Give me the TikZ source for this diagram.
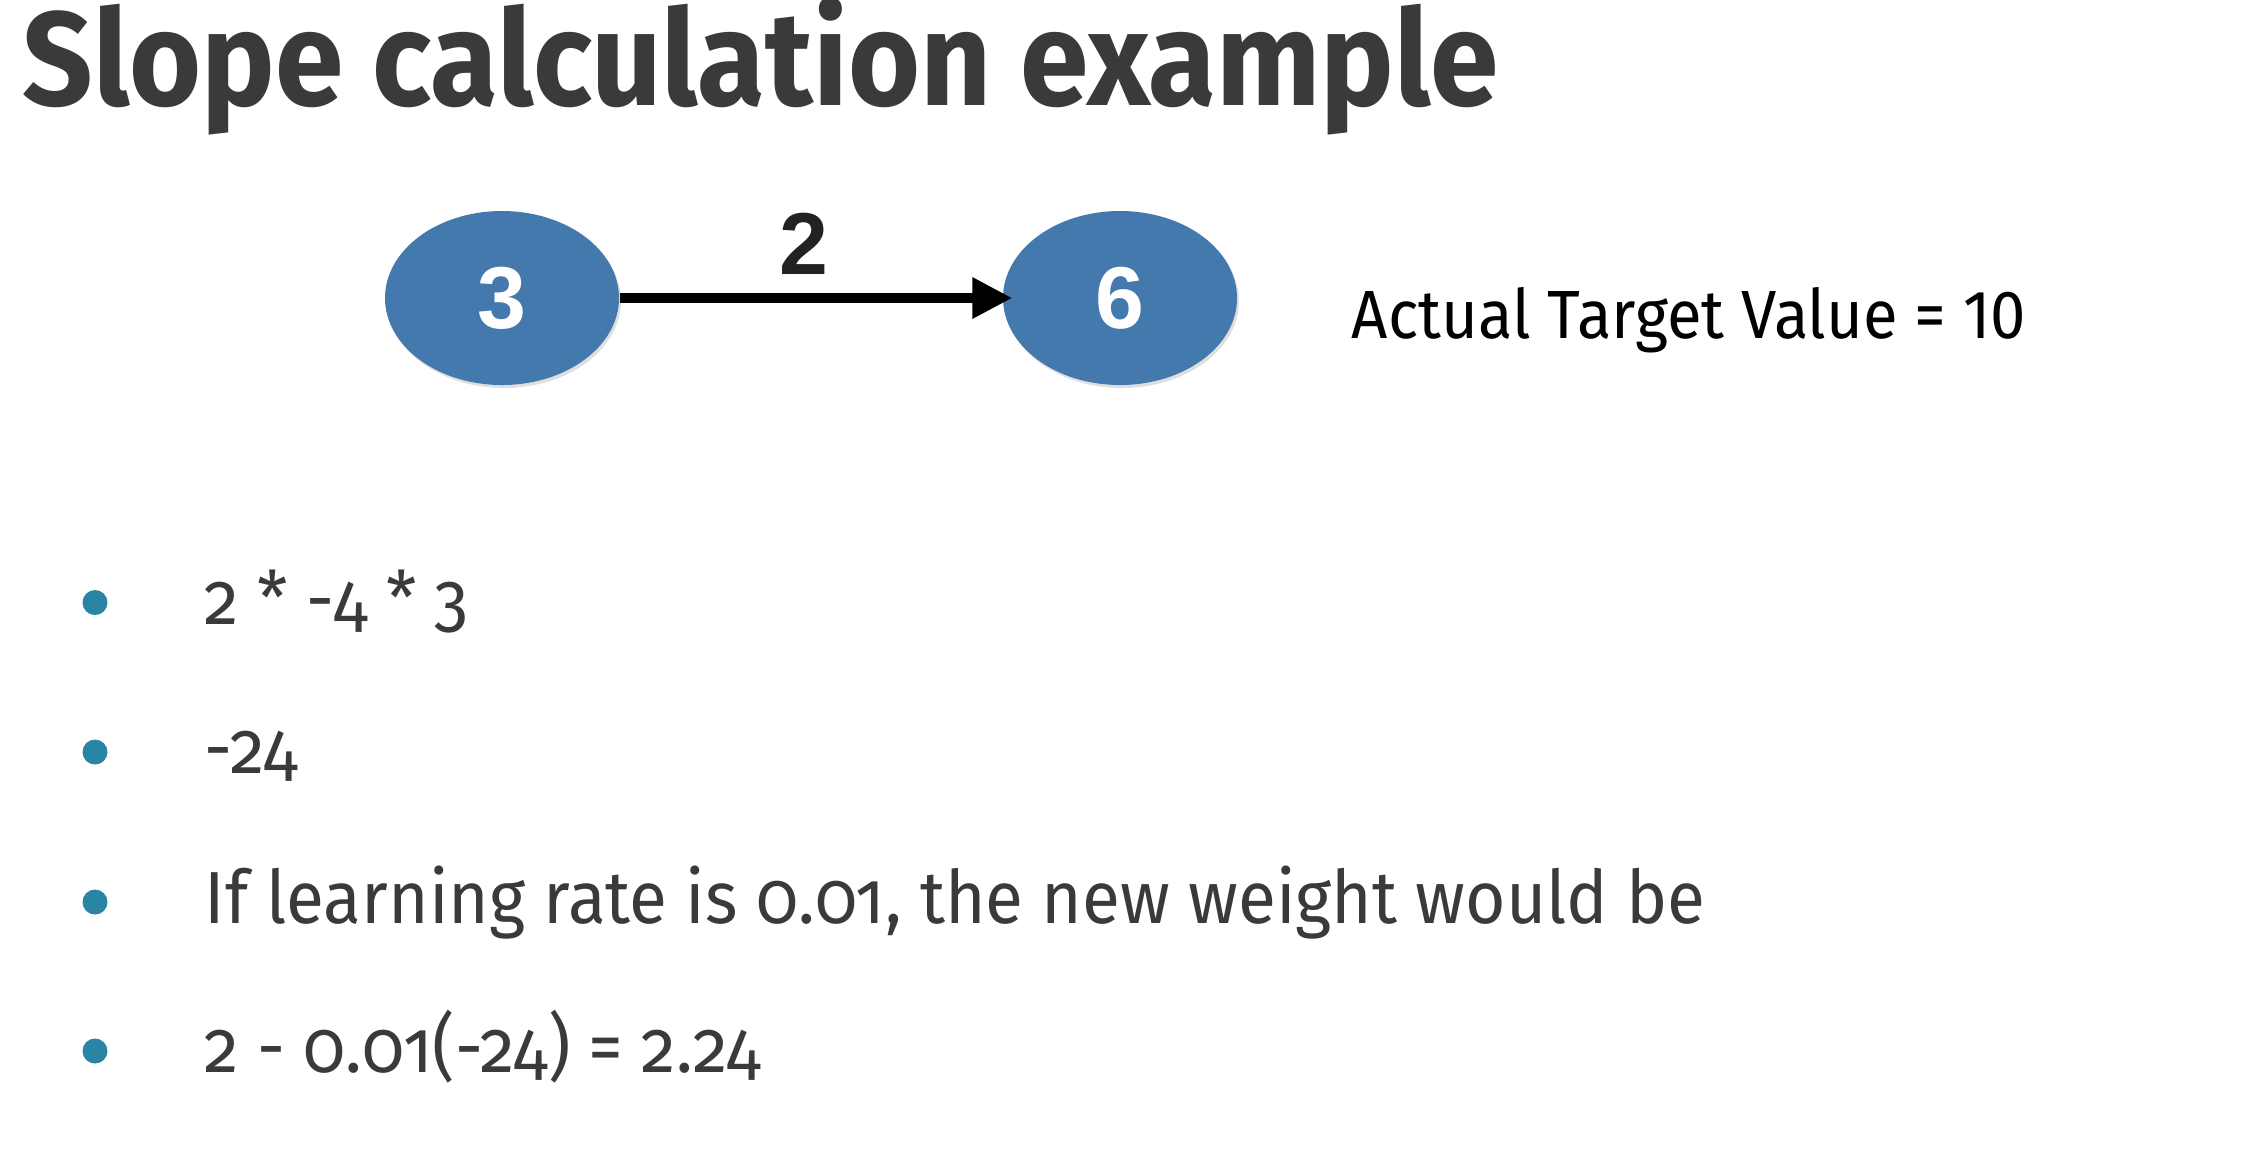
\documentclass[tikz,border=0pt]{standalone}
\usepackage{fontspec}
\setmainfont{Fira Sans}[Numbers=OldStyle, FakeStretch=0.94]
\newfontfamily\headfont{Fira Sans}[FakeStretch=0.925]
\newfontfamily\notefont{Fira Sans}[FakeStretch=0.93]
\newfontfamily\numfont{Liberation Sans}
\usetikzlibrary{shapes.geometric,arrows.meta,shadows}
\definecolor{nodeblue}{RGB}{68,121,173}
\definecolor{bulletteal}{RGB}{42,133,165}
\definecolor{textgray}{RGB}{58,58,58}
\definecolor{labelblack}{RGB}{34,34,34}

\begin{document}
\begin{tikzpicture}[
    neuron/.style={ellipse, fill=nodeblue, minimum width=2.34cm, minimum height=1.74cm, inner sep=0pt, text=white, font=\numfont\bfseries\fontsize{25}{25}\selectfont, drop shadow={shadow xshift=0.02cm, shadow yshift=-0.03cm, opacity=0.25}},
    bulletline/.style={anchor=base west, inner sep=0pt, text=textgray, font=\fontsize{21}{25}\selectfont},
    bulletdot/.style={circle, fill=bulletteal, minimum size=0.25cm, inner sep=0pt}]
  \useasboundingbox (0,0) rectangle (22.5,-11.68);

  % title
  \node[anchor=base west, inner sep=0pt, text=textgray, font=\headfont\bfseries\fontsize{38}{40}\selectfont] (title) at (0.22,-1.05) {Slope calculation example};

  % the two nodes and the weight
  \node[neuron] (input) at (5.02,-2.98) {3};
  \node[neuron] (output) at (11.2,-2.98) {6};
  \node[anchor=base, inner sep=0pt, text=labelblack, font=\numfont\bfseries\fontsize{25}{25}\selectfont] (weight) at (8.04,-2.74) {2};
  \draw[line width=2.7pt, -{Triangle[length=0.4cm, width=0.39cm]}, shorten >=-0.1cm] (input) -- (output);

  \node[anchor=base west, inner sep=0pt, text=black, font=\notefont\fontsize{19.4}{22}\selectfont] (target) at (13.51,-3.38) {Actual Target Value = 10};

  % bullet list
  \node[bulletline] (line1) at (2.04,-6.24) {2 * -4 * 3};
  \node[bulletline] (line2) at (2.04,-7.73) {-24};
  \node[bulletline] (line3) at (2.04,-9.23) {If learning rate is 0.01, the new weight would be};
  \node[bulletline] (line4) at (2.04,-10.72) {2 - 0.01(-24) = 2.24};

  \node[bulletdot] (dot1) at (0.95,-6.025) {};
  \node[bulletdot] (dot2) at (0.95,-7.52) {};
  \node[bulletdot] (dot3) at (0.95,-9.02) {};
  \node[bulletdot] (dot4) at (0.95,-10.51) {};
\end{tikzpicture}
\end{document}
